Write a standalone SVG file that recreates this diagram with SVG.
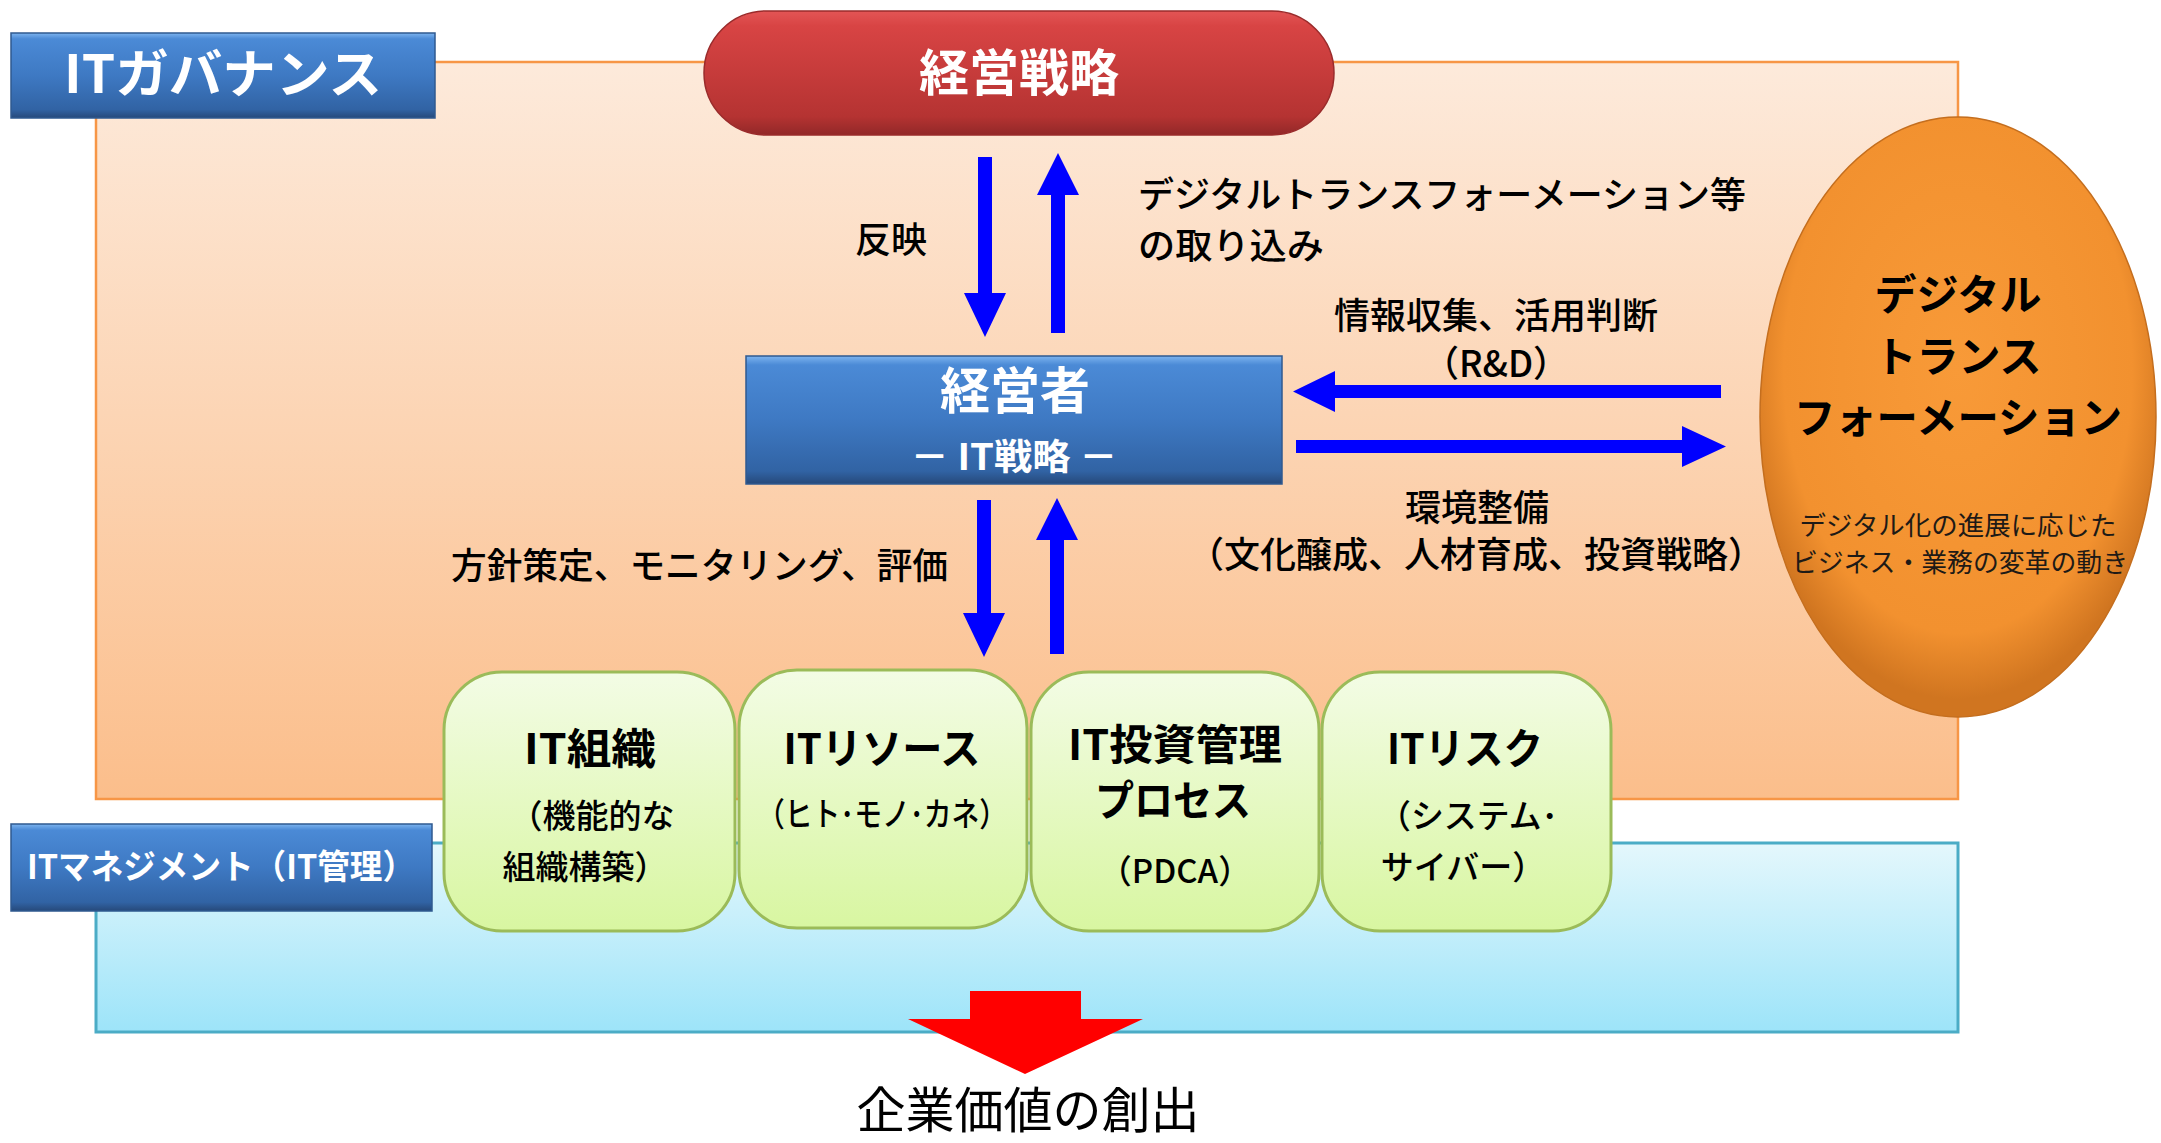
<svg xmlns="http://www.w3.org/2000/svg" width="2161" height="1143" viewBox="0 0 2161 1143">
<defs>
<linearGradient id="gOrange" x1="0" y1="0" x2="0" y2="1">
<stop offset="0" stop-color="#FDEADB"/>
<stop offset="1" stop-color="#FBBE8B"/>
</linearGradient>
<linearGradient id="gCyan" x1="0" y1="0" x2="0" y2="1">
<stop offset="0" stop-color="#E4F7FC"/>
<stop offset="1" stop-color="#9DE4F9"/>
</linearGradient>
<linearGradient id="gBlue" x1="0" y1="0" x2="0" y2="1">
<stop offset="0" stop-color="#7DB4EF"/>
<stop offset="0.07" stop-color="#4B8AD6"/>
<stop offset="0.5" stop-color="#3E79C3"/>
<stop offset="0.9" stop-color="#3163A4"/>
<stop offset="1" stop-color="#26497A"/>
</linearGradient>
<linearGradient id="gRed" x1="0" y1="0" x2="0" y2="1">
<stop offset="0" stop-color="#E35555"/>
<stop offset="0.12" stop-color="#D84444"/>
<stop offset="0.85" stop-color="#B53332"/>
<stop offset="1" stop-color="#922828"/>
</linearGradient>
<linearGradient id="gGreen" x1="0" y1="0" x2="0" y2="1">
<stop offset="0" stop-color="#F3FCE5"/>
<stop offset="1" stop-color="#D8F6A1"/>
</linearGradient>
<radialGradient id="gEll" cx="0.5" cy="0.42" r="0.55">
<stop offset="0" stop-color="#F89A38"/>
<stop offset="0.8" stop-color="#F2912F"/>
<stop offset="1" stop-color="#D07520"/>
</radialGradient>
<style>
text{font-family:'Noto Sans CJK JP','Noto Sans',sans-serif;}
.w{fill:#FFFFFF;font-weight:bold;text-anchor:middle;}
.lbl{fill:#000000;font-size:36px;font-weight:500;}
.c{text-anchor:middle;}
.gt{fill:#000000;font-size:42px;font-weight:bold;text-anchor:middle;}
.gs{fill:#000000;font-size:33px;font-weight:500;text-anchor:middle;}
.gbox{fill:url(#gGreen);stroke:#9BBB59;stroke-width:3;}
.bbox{fill:url(#gBlue);stroke:#2F5A90;stroke-width:1.5;}
.arr{fill:#0000FF;}
</style>
</defs>

<g id="governance-area">
<rect x="96" y="62" width="1862" height="737" fill="url(#gOrange)" stroke="#F79646" stroke-width="2.5"/>
</g>
<g id="management-area">
<rect x="96" y="843" width="1862" height="189" fill="url(#gCyan)" stroke="#4BACC6" stroke-width="3"/>
</g>

<g id="dx-ellipse">
<ellipse cx="1958" cy="417" rx="198" ry="300" fill="url(#gEll)" stroke="#C46E1E" stroke-width="1.5"/>
<text class="gt" x="1958" y="310" font-size="44">デジタル</text>
<text class="gt" x="1958" y="372">トランス</text>
<text class="gt" x="1958" y="433" textLength="328" lengthAdjust="spacingAndGlyphs">フォーメーション</text>
<text x="1958" y="535" font-size="26" fill="#1E1A16" text-anchor="middle" textLength="317" lengthAdjust="spacingAndGlyphs">デジタル化の進展に応じた</text>
<text x="1960" y="572" font-size="26" fill="#1E1A16" text-anchor="middle" textLength="336" lengthAdjust="spacingAndGlyphs">ビジネス・業務の変革の動き</text>
</g>

<g id="label-governance">
<rect class="bbox" x="11" y="33" width="424" height="85"/>
<text class="w" x="223" y="93" font-size="52" textLength="318" lengthAdjust="spacingAndGlyphs">ITガバナンス</text>
</g>

<g id="label-management">
<rect class="bbox" x="11" y="824" width="421" height="87"/>
<text class="w" x="221" y="879" font-size="34" textLength="388" lengthAdjust="spacingAndGlyphs">ITマネジメント（IT管理）</text>
</g>

<g id="strategy">
<rect x="704" y="11" width="630" height="124" rx="62" ry="62" fill="url(#gRed)" stroke="#9A2B2B" stroke-width="1.5"/>
<text class="w" x="1019" y="91" font-size="50">経営戦略</text>
</g>

<g id="executive">
<rect class="bbox" x="746" y="356" width="536" height="128"/>
<text class="w" x="1015" y="409" font-size="50">経営者</text>
<text class="w" x="1014" y="470" font-size="36" textLength="207" lengthAdjust="spacingAndGlyphs">－ IT戦略 －</text>
</g>

<g id="it-org">
<rect class="gbox" x="444" y="672" width="291" height="259" rx="58" ry="58"/>
<text class="gt" x="590" y="764" textLength="132" lengthAdjust="spacingAndGlyphs">IT組織</text>
<text class="gs" x="592" y="828">（機能的な</text>
<text class="gs" x="585" y="879">組織構築）</text>
</g>
<g id="it-resource">
<rect class="gbox" x="739" y="670" width="288" height="258" rx="58" ry="58"/>
<text class="gt" x="882" y="764" textLength="197" lengthAdjust="spacingAndGlyphs">ITリソース</text>
<text class="gs" x="882" y="826" textLength="250" lengthAdjust="spacingAndGlyphs">（ヒト･モノ･カネ）</text>
</g>
<g id="it-investment">
<rect class="gbox" x="1031" y="672" width="288" height="259" rx="58" ry="58"/>
<text class="gt" x="1175" y="760" font-size="40" textLength="214" lengthAdjust="spacingAndGlyphs">IT投資管理</text>
<text class="gt" x="1173" y="816" font-size="40" textLength="156" lengthAdjust="spacingAndGlyphs">プロセス</text>
<text class="gs" x="1175" y="883">（PDCA）</text>
</g>
<g id="it-risk">
<rect class="gbox" x="1322" y="672" width="289" height="259" rx="58" ry="58"/>
<text class="gt" x="1465" y="764" textLength="156" lengthAdjust="spacingAndGlyphs">ITリスク</text>
<text class="gs" x="1468" y="828" textLength="180" lengthAdjust="spacingAndGlyphs">（システム･</text>
<text class="gs" x="1463" y="879">サイバー）</text>
</g>

<g id="connectors">
<polygon class="arr" points="978,157 992,157 992,293 1006,293 985,337 964,293 978,293"/>
<polygon class="arr" points="1051,333 1065,333 1065,195 1079,195 1058,153 1037,195 1051,195"/>
<polygon class="arr" points="977,500 991,500 991,613 1005,613 984,657 963,613 977,613"/>
<polygon class="arr" points="1050,654 1064,654 1064,540 1078,540 1057,498 1036,540 1050,540"/>
<polygon class="arr" points="1721,385 1721,398 1335,398 1335,412 1293,391.5 1335,371 1335,385"/>
<polygon class="arr" points="1296,440 1682,440 1682,426 1726,446.5 1682,467 1682,453 1296,453"/>
<polygon fill="#FF0000" points="970,991 1081,991 1081,1019 1143,1019 1025,1074 908,1019 970,1019"/>
</g>

<g id="labels">
<text class="lbl" x="855" y="253" font-size="38">反映</text>
<text class="lbl" x="1138" y="208" font-size="35" textLength="608" lengthAdjust="spacingAndGlyphs">デジタルトランスフォーメーション等</text>
<text class="lbl" x="1138" y="259" font-size="35" textLength="186" lengthAdjust="spacingAndGlyphs">の取り込み</text>
<text class="lbl c" x="1496" y="329" font-size="38">情報収集、活用判断</text>
<text class="lbl c" x="1496" y="377" font-size="37">（R&amp;D）</text>
<text class="lbl c" x="1477" y="521" font-size="38">環境整備</text>
<text class="lbl c" x="1476" y="568">（文化醸成、人材育成、投資戦略）</text>
<text class="lbl" x="451" y="579" textLength="497" lengthAdjust="spacingAndGlyphs">方針策定、モニタリング、評価</text>
<text x="1028" y="1128" font-size="49" fill="#000000" text-anchor="middle">企業価値の創出</text>
</g>
</svg>
